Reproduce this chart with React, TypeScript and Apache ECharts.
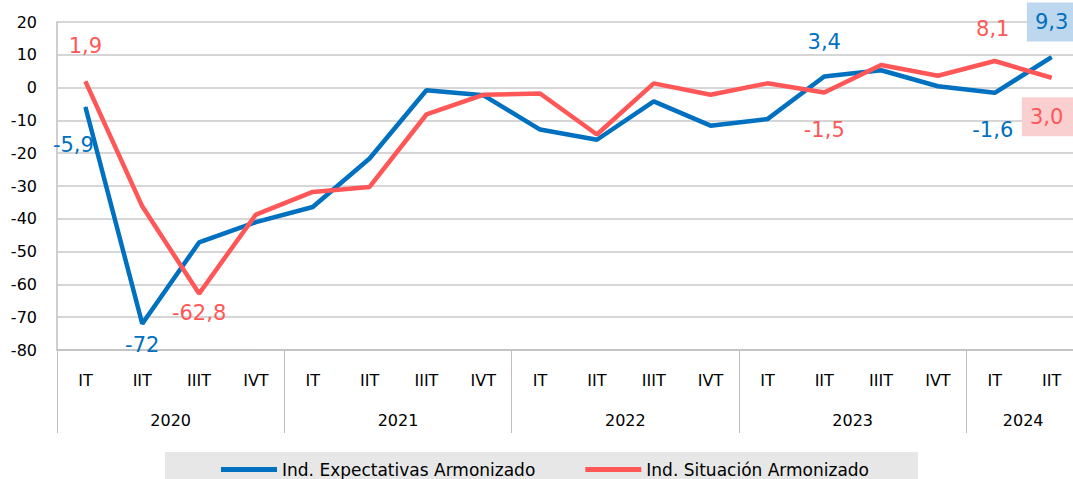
import React, { useEffect, useRef } from "react";
import * as echarts from "echarts";

const quarters = ["IT","IIT","IIIT","IVT","IT","IIT","IIIT","IVT","IT","IIT","IIIT","IVT","IT","IIT","IIIT","IVT","IT","IIT"];
const yearLabels: Record<number, string> = { 2: "2020", 6: "2021", 10: "2022", 14: "2023", 17: "2024" };
const yearBoundaries = [0, 4, 8, 12, 16];

const expectativas = [-5.9, -72, -47.2, -41, -36.4, -21.6, -0.8, -2.3, -12.8, -15.9, -4.2, -11.6, -9.6, 3.4, 5.3, 0.4, -1.6, 9.3];
const situacion = [1.9, -36.2, -62.8, -38.7, -31.8, -30.3, -8.2, -2.2, -1.8, -14.3, 1.3, -2.2, 1.3, -1.5, 6.9, 3.6, 8.1, 3.0];

const fmt = (v: number, d: number) => v.toFixed(d).replace(".", ",");

const FONT = "DejaVu Sans";
const BLUE = "#0070C0";
const RED = "#FF5757";

const blueLabels: Record<number, any> = {
  0: { offset: [-12, 38] },
  1: { offset: [0, 21], decimals: 0 },
  13: { offset: [0, -34] },
  16: { offset: [-2, 37] },
  17: { offset: [0, -35], backgroundColor: "#BDD7EE", padding: [9, 8, 9, 8] },
};
const redLabels: Record<number, any> = {
  0: { offset: [0, -35] },
  2: { offset: [0, 19] },
  13: { offset: [0, 37] },
  16: { offset: [-2, -32] },
  17: { offset: [-4, 39], backgroundColor: "#F9CFCF", padding: [9, 10, 9, 8] },
};

function buildData(values: number[], labels: Record<number, any>, color: string) {
  return values.map((v, i) => {
    const l = labels[i];
    if (!l) return { value: v };
    const { decimals, ...rest } = l;
    return {
      value: v,
      label: {
        show: true,
        position: "inside",
        formatter: fmt(v, decimals ?? 1),
        color,
        fontSize: 21,
        fontFamily: FONT,
        ...rest,
      },
    };
  });
}

export default function App() {
  const ref = useRef<HTMLDivElement>(null);
  useEffect(() => {
    if (!ref.current) return;
    const chart = echarts.init(ref.current, null, { renderer: "svg" });
    chart.setOption({
      animation: false,
      backgroundColor: "#ffffff",
      textStyle: { fontFamily: FONT },
      grid: { left: 57, right: 0, top: 22, bottom: 129 },
      graphic: [
        {
          type: "rect",
          left: 165,
          top: 452,
          shape: { width: 753, height: 27 },
          style: { fill: "#E7E7E7" },
          z: -1,
        },
      ],
      legend: {
        data: ["Ind. Expectativas Armonizado", "Ind. Situación Armonizado"],
        left: 216,
        top: 456,
        icon: "rect",
        itemWidth: 56,
        itemHeight: 5,
        itemGap: 50,
        textStyle: { fontSize: 17, color: "#000", fontFamily: FONT },
      },
      xAxis: [
        {
          type: "category",
          data: quarters,
          boundaryGap: true,
          axisLine: { onZero: false, lineStyle: { color: "#BFBFBF", width: 1.5 } },
          axisTick: {
            show: true,
            length: 83,
            interval: (i: number) => yearBoundaries.includes(i),
            lineStyle: { color: "#BFBFBF" },
          },
          axisLabel: { fontSize: 16, color: "#000", margin: 22, interval: 0, fontFamily: FONT },
        },
        {
          type: "value",
          min: 0,
          max: 18,
          interval: 1,
          position: "bottom",
          axisLine: { show: false, onZero: false },
          axisTick: { show: false },
          splitLine: { show: false },
          axisLabel: {
            fontSize: 16,
            color: "#000",
            margin: 62,
            fontFamily: FONT,
            formatter: (v: number) => yearLabels[v] ?? "",
          },
        },
      ],
      yAxis: {
        type: "value",
        min: -80,
        max: 20,
        interval: 10,
        axisLine: { show: true, lineStyle: { color: "#BFBFBF", width: 1.5 } },
        axisTick: { show: false },
        splitLine: { lineStyle: { color: "#C8C8C8", width: 1.5 } },
        axisLabel: { fontSize: 16, color: "#000", margin: 20, fontFamily: FONT },
      },
      series: [
        {
          name: "Ind. Expectativas Armonizado",
          type: "line",
          xAxisIndex: 0,
          data: buildData(expectativas, blueLabels, BLUE),
          symbol: "circle",
          symbolSize: 1,
          itemStyle: { color: BLUE },
          lineStyle: { color: BLUE, width: 4.5 },
          z: 3,
        },
        {
          name: "Ind. Situación Armonizado",
          type: "line",
          xAxisIndex: 0,
          data: buildData(situacion, redLabels, RED),
          symbol: "circle",
          symbolSize: 1,
          itemStyle: { color: RED },
          lineStyle: { color: RED, width: 4.5 },
          z: 4,
        },
      ],
    });
    return () => chart.dispose();
  }, []);
  return (
    <div style={{ position: "fixed", left: 0, top: 0, width: 1073, height: 479, overflow: "hidden", background: "#fff" }}>
      <div ref={ref} style={{ width: 1083, height: 479 }} />
    </div>
  );
}
